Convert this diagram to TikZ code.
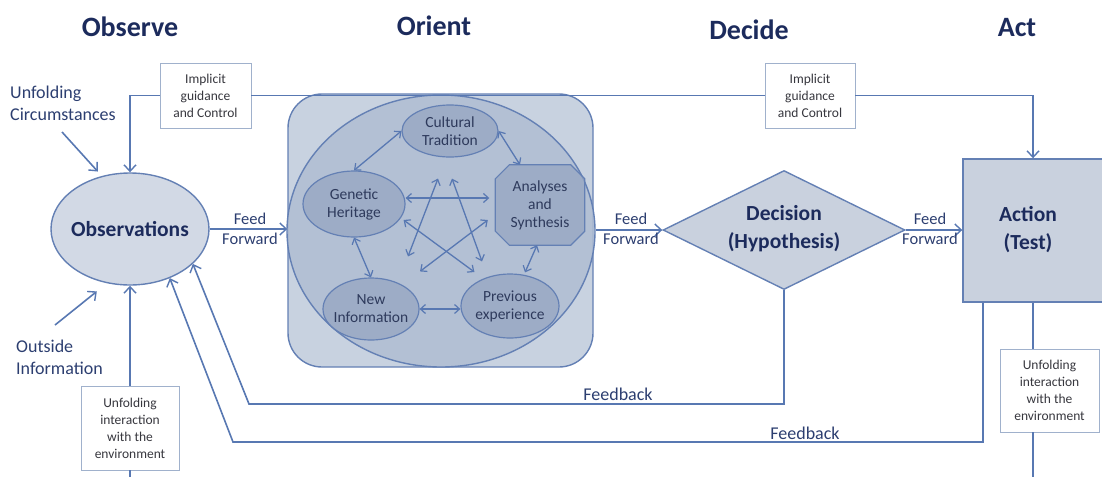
\documentclass[tikz,border=0pt]{standalone}
\usepackage{fontspec}
\setmainfont{Carlito}
\usetikzlibrary{arrows.meta,shapes.geometric,calc}
\definecolor{linec}{RGB}{88,120,178}
\definecolor{titlec}{RGB}{28,43,92}
\definecolor{labc}{RGB}{44,62,112}
\definecolor{boxtc}{RGB}{55,55,62}
\definecolor{boxbd}{RGB}{160,177,204}
\definecolor{obsfill}{RGB}{210,217,229}
\definecolor{shapebd}{RGB}{100,128,180}
\definecolor{rectfill}{RGB}{200,210,224}
\definecolor{circfill}{RGB}{176,190,211}
\definecolor{innerfill}{RGB}{150,166,194}
\definecolor{innertc}{RGB}{46,58,92}
\definecolor{decfill}{RGB}{201,209,222}
\tikzset{
  ttl/.style={font=\fontsize{28}{30}\selectfont\bfseries, text=titlec, inner sep=0pt, anchor=base},
  lab/.style={font=\fontsize{18}{22}\selectfont, text=labc, inner sep=0pt, align=left},
  fflab/.style={font=\fontsize{16.5}{20}\selectfont, text=labc, inner sep=0pt, align=center},
  smallbox/.style={draw=boxbd, line width=0.9pt, fill=white, inner sep=0pt, align=center,
    font=\fontsize{13.5}{17}\selectfont, text=boxtc},
  ln/.style={draw=linec, line width=1.6pt},
  conn/.style={ln, -{Straight Barb[length=6.5pt,width=12pt,line width=1.4pt]}},
  dbl/.style={draw=linec, line width=1.3pt,
    {Straight Barb[length=5pt,width=9pt,line width=1.2pt]}-{Straight Barb[length=5pt,width=9pt,line width=1.2pt]}},
  inner/.style={ellipse, draw=shapebd, line width=1.2pt, fill=innerfill, fill opacity=0.75, text opacity=1,
    inner sep=0pt, text=innertc, font=\fontsize{15}{18}\selectfont, align=center},
  intxt/.style={font=\fontsize{15.5}{18}\selectfont, text=innertc, align=center, inner sep=0pt},
  bigtxt/.style={font=\fontsize{21.5}{28}\selectfont\bfseries, text=titlec, align=center},
}
\begin{document}
\begin{tikzpicture}[x=1pt,y=-1pt]
\useasboundingbox (0,0) rectangle (1102,477);
\clip (0,0) rectangle (1102,477);

% titles
\node[ttl] (tobs) at (130,36) {Observe};
\node[ttl] (tori) at (434,35) {Orient};
\node[ttl] (tdec) at (749,39) {Decide};
\node[ttl] (tact) at (1017,36) {Act};

% side labels
\node[lab, anchor=west] (ucirc) at (10,103) {Unfolding\\Circumstances};
\node[lab, anchor=west] (oinfo) at (16,357) {Outside\\Information};

% Observations
\node[ellipse, draw=shapebd, line width=1.4pt, fill=obsfill, minimum width=158pt, minimum height=112pt, inner sep=0pt,
  label={[bigtxt]center:Observations}] (obs) at (130,229) {};

% Orient
\node[rectangle, rounded corners=34pt, draw=shapebd, line width=1.4pt, fill=rectfill,
  minimum width=305pt, minimum height=273pt, inner sep=0pt] (orect) at (440.5,230.5) {};
\node[ellipse, draw=shapebd, line width=1.4pt, fill=circfill, fill opacity=0.85,
  minimum width=308pt, minimum height=272pt, inner sep=0pt] (ocirc) at (441,231) {};

\node[inner, minimum width=96pt, minimum height=52pt] (cul) at (450,131) {};
\node[intxt] (culT) at (cul) {Cultural\\Tradition};
\node[inner, minimum width=102pt, minimum height=66pt] (gen) at (354,204) {};
\node[intxt] (genT) at (gen) {Genetic\\Heritage};
\node[inner, minimum width=96pt, minimum height=62pt] (new) at (371,309) {};
\node[intxt] (newT) at (new) {New\\Information};
\node[inner, minimum width=98pt, minimum height=64pt] (prv) at (510,306) {};
\node[intxt] (prvT) at (prv) {Previous\\experience};
\node[rectangle, minimum width=89pt, minimum height=80pt, inner sep=0pt] (ana) at (540,205) {};
\fill[innerfill, fill opacity=0.75, draw=shapebd, draw opacity=1, line width=1.2pt]
  ([xshift=14pt]ana.north west) -- ([xshift=-14pt]ana.north east) -- ([yshift=-14pt]ana.north east)
  -- ([yshift=14pt]ana.south east) -- ([xshift=-14pt]ana.south east) -- ([xshift=14pt]ana.south west)
  -- ([yshift=14pt]ana.south west) -- ([yshift=-14pt]ana.north west) -- cycle;
\node[intxt] (anaT) at (ana) {Analyses\\and\\Synthesis};

% ring arrows
\draw[dbl] (cul.180) -- (gen.north);
\draw[dbl] (cul.east) -- ([xshift=-20pt]ana.north);
\draw[dbl] (gen.south) -- (new.north);
\draw[dbl] (new.east) -- (new.east -| prv.west);
\draw[dbl] ([xshift=-3pt]ana.south) -- ([xshift=15pt,yshift=1pt]prv.north);
% star arrows
\draw[dbl] ([yshift=6pt]gen.east) -- ([xshift=-6pt,yshift=7pt]ana.west);
\draw[dbl] ([xshift=-2pt,yshift=-16pt]gen.east) -- ([xshift=14pt,yshift=34pt]prv.west);
\draw[dbl] ([xshift=-12pt,yshift=-21pt]cul.south) -- ([xshift=37pt,yshift=21pt]new.north);
\draw[dbl] ([xshift=2pt,yshift=-21pt]cul.south) -- ([xshift=-28pt,yshift=12pt]prv.north);
\draw[dbl] ([xshift=-7.5pt,yshift=-15pt]ana.west) -- ([xshift=49pt,yshift=6pt]new.north);

% Decision
\node[diamond, draw=shapebd, line width=1.4pt, fill=decfill, minimum width=242pt, minimum height=119pt, inner sep=0pt] (dec) at (784,230) {};
\node[bigtxt, inner sep=0pt] (decT) at (784,229) {Decision\\(Hypothesis)};

% Action
\node[rectangle, draw=shapebd, line width=1.4pt, fill=decfill, minimum width=140pt, minimum height=143pt, inner sep=0pt] (act) at (1033,230.5) {};
\node[bigtxt, inner sep=0pt] (actT) at (1028,230) {Action\\(Test)};

% implicit guidance boxes
\node[smallbox, minimum width=91pt, minimum height=65pt] (imp1) at (205.5,95.5) {Implicit\\guidance\\and Control};
\node[smallbox, minimum width=90pt, minimum height=65pt] (imp2) at (810,95.5) {Implicit\\guidance\\and Control};
\draw[conn] (imp1.west) -| (obs.north);
\draw[ln] (imp1.east) -- (imp2.west);
\draw[conn] (imp2.east) -| (act.north);

% unfolding interaction boxes
\node[smallbox, minimum width=98pt, minimum height=84pt] (unf1) at (130,428) {Unfolding\\interaction\\with the\\environment};
\node[smallbox, minimum width=99pt, minimum height=83pt] (unf2) at (1049.5,390.5) {Unfolding\\interaction\\with the\\environment};
\coordinate (lbot) at (130,477);
\coordinate (rbot) at (1033,477);
\draw[conn] (unf1.north) -- (obs.south);
\draw[ln] (unf1.south) -- (lbot);
\draw[ln] (act.south) -- (act.south |- unf2.north);
\draw[ln] (act.south |- unf2.south) -- (rbot);

% outside arrows
\coordinate (ucA) at (62,132);
\coordinate (oiA) at (55,325);
\draw[conn, shorten >=6pt] (ucA) -- (obs.118);
\draw[conn, shorten >=13pt] (oiA) -- (obs.247);

% feed forward
\draw[conn] (obs.east) -- (obs.east -| orect.west);
\draw[conn] (dec.west -| ocirc.east) -- (dec.west);
\draw[conn] (dec.east) -- (dec.east -| act.west);
\node[fflab] (ff1) at (250,229) {Feed\\Forward};
\node[fflab] (ff2) at (631,229) {Feed\\Forward};
\node[fflab] (ff3) at (930,229) {Feed\\Forward};

% feedback
\coordinate (fb1c) at (249,404);
\coordinate (fb2c) at (233,442);
\draw[conn] (dec.south) |- (fb1c) -- (obs.331);
\draw[conn] ([xshift=-50pt]act.south) |- (fb2c) -- (obs.309);
\node[lab] (fb1) at (618,394) {Feedback};
\node[lab] (fb2) at (805,433) {Feedback};
\end{tikzpicture}
\end{document}
